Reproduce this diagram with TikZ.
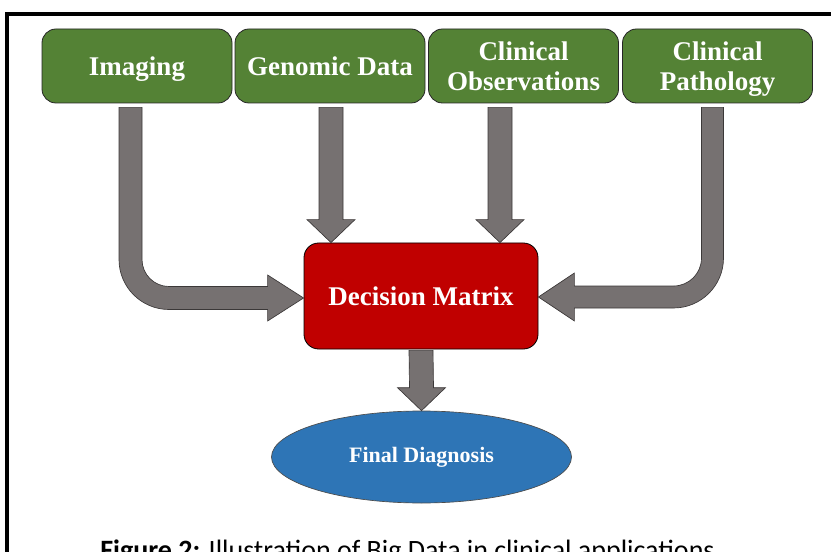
\documentclass[tikz,border=0pt]{standalone}
\usepackage{fontspec}
\setmainfont{Liberation Serif}
\newfontfamily\capfont{Carlito}
\usetikzlibrary{calc,shapes.geometric}

\definecolor{srcgreen}{HTML}{548235}
\definecolor{mtxred}{HTML}{C00000}
\definecolor{diagblue}{HTML}{2E75B6}
\definecolor{arrgray}{HTML}{767171}
\definecolor{arrline}{HTML}{3B3838}

\tikzset{
	srcbox/.style={rectangle,rounded corners=10.5pt,draw=black!85,fill=srcgreen,line width=0.6pt,minimum width=142.5pt,minimum height=55.5pt,inner sep=0pt,text depth=0pt,text=white,align=center,font=\bfseries\fontsize{20.25}{22.5}\selectfont},
	mtxbox/.style={rectangle,rounded corners=11pt,draw=black,fill=mtxred,line width=0.6pt,minimum width=175.5pt,minimum height=79.5pt,inner sep=0pt,text=white,font=\bfseries\fontsize{20.25}{22.5}\selectfont},
	diagell/.style={ellipse,draw=black!70,fill=diagblue,line width=0.5pt,minimum width=225pt,minimum height=69pt,inner sep=0pt,text=white,font=\bfseries\fontsize{16.5}{18}\selectfont},
	blk/.style={fill=arrgray,draw=arrline,line width=0.5pt}
}

% straight block arrow: #1 top of shaft, #2 tip
\newcommand{\blockdown}[2]{%
	\draw[blk] ($(#1)+(-12,0)$) -- ($(#2)+(-12,-23)$) -- ($(#2)+(-24,-23)$) -- (#2)
		-- ($(#2)+(24,-23)$) -- ($(#2)+(12,-23)$) -- ($(#1)+(12,0)$) -- cycle;}

\begin{document}
\begin{tikzpicture}[x=0.75pt,y=-0.75pt]
	\useasboundingbox (0,0) rectangle (831,552);
	\clip (0,0) rectangle (831,552);
	\draw[line width=3pt] (7,560) -- (7,14) -- (840,14);

	\node[srcbox](img) at (137,66){Imaging};
	\node[srcbox](gen) at (330,66){Genomic Data};
	\node[srcbox](obs) at (523.5,66){Clinical\\Observations};
	\node[srcbox](pth) at (717.5,66){Clinical\\Pathology};
	\node[mtxbox](dm) at (421,296){Decision Matrix};
	\node[diagell](fd) at (421.5,457){Final Diagnosis};
	\node[anchor=base west,inner sep=0pt,font=\capfont\fontsize{21}{23}\selectfont](cap) at (100,559){\textbf{Figure 2:} Illustration of Big Data in clinical applications};

	\coordinate (ia) at ($(img.south)+(-6.5,4)$);
	\coordinate (it) at ($(dm.west)+(0,2)$);
	\coordinate (ik) at (ia |- it);
	\coordinate (ga) at ($(gen.south)+(1,4)$);
	\coordinate (gt) at (ga |- dm.north);
	\coordinate (oa) at ($(obs.south)+(-23.5,4)$);
	\coordinate (ot) at (oa |- dm.north);
	\coordinate (pa) at ($(pth.south)+(-5,4)$);
	\coordinate (pt) at ($(dm.east)+(0,1)$);
	\coordinate (pk) at (pa |- pt);
	\coordinate (da) at ($(dm.south)+(0,1)$);
	\coordinate (dt) at (fd.north);

	\draw[blk] ($(ia)+(-11.5,0)$) -- ($(ik)+(-11.5,-38.5)$) .. controls ($(ik)+(-11.5,-10.9)$) and ($(ik)+(10.9,11.5)$) .. ($(ik)+(38.5,11.5)$)
		-- ($(it)+(-36,11.5)$) -- ($(it)+(-36,23)$) -- (it) -- ($(it)+(-36,-23)$) -- ($(it)+(-36,-11.5)$)
		-- ($(ik)+(38.5,-11.5)$) .. controls ($(ik)+(23.6,-11.5)$) and ($(ik)+(11.5,-23.6)$) .. ($(ik)+(11.5,-38.5)$)
		-- ($(ia)+(11.5,0)$) -- cycle;
	\draw[blk] ($(pa)+(11,0)$) -- ($(pk)+(11,-39)$) .. controls ($(pk)+(11,-11.4)$) and ($(pk)+(-11.4,11)$) .. ($(pk)+(-39,11)$)
		-- ($(pt)+(36,11)$) -- ($(pt)+(36,24)$) -- (pt) -- ($(pt)+(36,-24)$) -- ($(pt)+(36,-11)$)
		-- ($(pk)+(-39,-11)$) .. controls ($(pk)+(-23.5,-11)$) and ($(pk)+(-11,-23.5)$) .. ($(pk)+(-11,-39)$)
		-- ($(pa)+(-11,0)$) -- cycle;
	\blockdown{ga}{gt}
	\blockdown{oa}{ot}
	\blockdown{da}{dt}
\end{tikzpicture}
\end{document}
